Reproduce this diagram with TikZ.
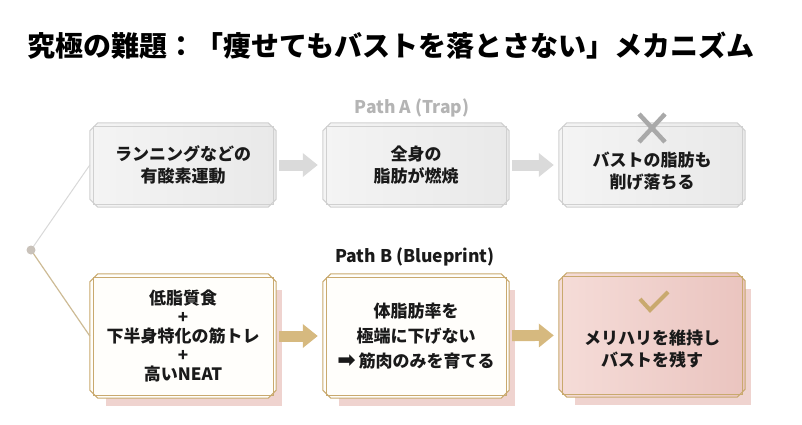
\documentclass[tikz,border=0pt]{standalone}
\usepackage{fontspec}
\setmainfont{Noto Sans CJK JP}
\newfontfamily\symfont{DejaVu Sans}
\usepackage{tikz}
\usetikzlibrary{arrows.meta,backgrounds,calc}

\definecolor{inkcol}{HTML}{1A1A1A}
\definecolor{frameA}{HTML}{D0D0D0}
\definecolor{fillAa}{HTML}{F4F4F4}
\definecolor{fillAb}{HTML}{E9E9E9}
\definecolor{goldcol}{HTML}{C9A96E}
\definecolor{goldlite}{HTML}{E6D3AA}
\definecolor{cream}{HTML}{FFFEFB}
\definecolor{pinkA}{HTML}{F5DCD8}
\definecolor{pinkB}{HTML}{EAC4BF}
\definecolor{pinkshadow}{HTML}{EFD3CF}
\definecolor{arrowA}{HTML}{DADADA}
\definecolor{arrowB}{HTML}{D6B97F}
\definecolor{markgrey}{HTML}{A9A9A9}
\definecolor{pathgrey}{HTML}{B4B4B4}
\definecolor{rootcol}{HTML}{C9C2BA}
\definecolor{lineA}{HTML}{D8D8D8}
\definecolor{lineB}{HTML}{CDBB95}

\tikzset{
  box/.style={minimum width=186pt, inner sep=0pt, align=center, text=inkcol},
  boxA/.style={box, minimum height=84pt},
  boxB/.style={box, minimum height=124pt},
  boxtext/.style={align=center, text=inkcol, inner sep=0pt},
  linkA/.style={draw=arrowA, line width=11pt, -{Triangle[length=15pt,width=23pt]},
    shorten <=3pt, shorten >=5pt},
  linkB/.style={linkA, draw=arrowB},
  pathlabel/.style={font=\bfseries\fontsize{17.5}{19}\selectfont}
}

\begin{document}
\begin{tikzpicture}[x=1pt, y=1pt]
\useasboundingbox (0,0) rectangle (802,424);

\def\Frame#1#2#3{
\path[#3] ($(#1.north west)+(8,0)$) -- ($(#1.north east)+(-8,0)$)
  -- ($(#1.north east)+(0,-8)$) -- ($(#1.south east)+(0,8)$)
  -- ($(#1.south east)+(-8,0)$) -- ($(#1.south west)+(8,0)$)
  -- ($(#1.south west)+(0,8)$) -- ($(#1.north west)+(0,-8)$) -- cycle;
\draw[#2, line width=1pt] ($(#1.north west)+(8,0)$) -- ($(#1.north east)+(-8,0)$)
  -- ($(#1.north east)+(0,-8)$) -- ($(#1.south east)+(0,8)$)
  -- ($(#1.south east)+(-8,0)$) -- ($(#1.south west)+(8,0)$)
  -- ($(#1.south west)+(0,8)$) -- ($(#1.north west)+(0,-8)$) -- cycle;
\draw[#2, line width=0.6pt] ($(#1.north west)+(3,-3)$) rectangle ($(#1.south east)+(-3,3)$);
}

% title
\node[anchor=west, font=\bfseries\fontsize{28}{30}\selectfont] (title) at (24,378)
  {究極の難題：「痩せてもバストを落とさない」メカニズム};

% path A
\node[pathlabel, text=pathgrey] (labA) at (412,316) {Path A (Trap)};
\node[boxA, font=\bfseries\fontsize{17}{22}\selectfont] (A1) at (183,259) {ランニングなどの\\有酸素運動};
\node[boxA, font=\bfseries\fontsize{17}{22}\selectfont] (A2) at (416,259) {全身の\\脂肪が燃焼};
\node[boxA] (A3) at (652,259) {};
\node[boxtext, font=\bfseries\fontsize{17}{22}\selectfont] (A3t) at (652,253) {バストの脂肪も\\削げ落ちる};

% path B
\node[pathlabel, text=inkcol] (labB) at (415,167) {Path B (Blueprint)};
\node[boxB, font=\bfseries\fontsize{17}{19}\selectfont] (B1) at (183,88)
  {低脂質食\\+\\下半身特化の筋トレ\\+\\高いNEAT};
\node[boxB, font=\bfseries\fontsize{17}{25}\selectfont] (B2) at (416,88)
  {体脂肪率を\\極端に下げない\\\raisebox{-0.5pt}{\symfont\fontsize{22}{25}\selectfont ➡}\,筋肉のみを育てる};
\node[boxB] (B3) at (652,89) {};
\node[boxtext, font=\bfseries\fontsize{17}{22}\selectfont] (B3t) at (652,75) {メリハリを維持し\\バストを残す};

\begin{scope}[on background layer]
\foreach \n in {B1,B2,B3}
  \fill[pinkshadow] ($(\n.south west)+(16,-8)$) rectangle ($(\n.north east)+(6,-16)$);
\Frame{A1}{frameA}{left color=fillAa, right color=fillAb}
\Frame{A2}{frameA}{left color=fillAa, right color=fillAb}
\Frame{A3}{frameA}{left color=fillAa, right color=fillAb}
\Frame{B1}{goldcol}{fill=cream}
\Frame{B2}{goldcol}{fill=cream}
\Frame{B3}{goldcol}{left color=pinkA, right color=pinkB}
\end{scope}

% marks
\draw[markgrey, line width=4.5pt] (639,282) -- (665,310) (639,310) -- (665,282);
\draw[goldcol, line width=4pt, line join=miter] (640,125) -- (650,114) -- (668,132);

% arrows
\draw[linkA] (A1) -- (A2);
\draw[linkA] (A2) -- (A3);
\draw[linkB] (B1) -- (B2);
\draw[linkB] (B2) -- (B3);

% branch
\coordinate (root) at (31,174);
\draw[lineA, line width=1pt] (root) -- (A1.west);
\draw[lineB, line width=1.2pt] (root) -- (B1.west);
\fill[rootcol] (root) circle (4.5);
\end{tikzpicture}
\end{document}
